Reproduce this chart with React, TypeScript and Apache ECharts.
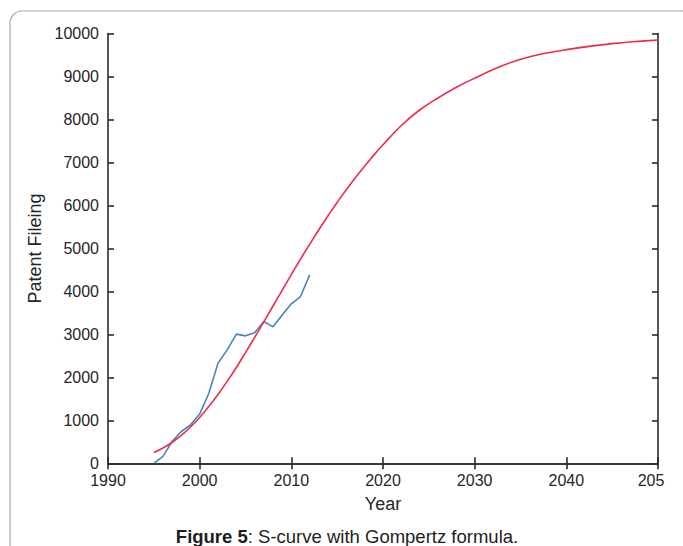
import React, { useEffect, useRef } from "react";
import * as echarts from "echarts";

// Observed patent filings (blue)
const obsYears = [1995, 1996, 1997, 1998, 1999, 2000, 2001, 2002, 2003, 2004, 2005, 2006, 2007, 2008, 2009, 2010, 2011, 2012];
const obsValues = [0, 160, 510, 740, 895, 1145, 1630, 2330, 2640, 3005, 2965, 3040, 3300, 3175, 3450, 3710, 3880, 4385];

// Gompertz S-curve (red)
const fitYears = [1995, 1996, 1997, 1998, 1999, 2000, 2001, 2002, 2003, 2004, 2005, 2006, 2007, 2008, 2009, 2010, 2011, 2012, 2013, 2014, 2015, 2017, 2019, 2020, 2022, 2024, 2026, 2028, 2030, 2033, 2036, 2040, 2045, 2050];
const fitValues = [250, 355, 490, 650, 845, 1065, 1320, 1600, 1905, 2230, 2575, 2930, 3290, 3660, 4025, 4390, 4750, 5095, 5435, 5760, 6070, 6650, 7170, 7410, 7860, 8220, 8500, 8750, 8960, 9250, 9460, 9625, 9765, 9850];

// Axis tick labels
const xTicks = [1990, 2000, 2010, 2020, 2030, 2040, 2050];
const xTickLabels = ["1990", "2000", "2010", "2020", "2030", "2040", "205"];
const yTicks = [0, 1000, 2000, 3000, 4000, 5000, 6000, 7000, 8000, 9000, 10000];
const yTickLabels = ["0", "1000", "2000", "3000", "4000", "5000", "6000", "7000", "8000", "9000", "10000"];

const FONT = "'Liberation Sans', Arial, Helvetica, sans-serif";
const AXIS_COLOR = "#2b2b2b";
const TEXT_COLOR = "#262626";

export default function App() {
  const ref = useRef<HTMLDivElement>(null);

  useEffect(() => {
    if (!ref.current) return;
    const chart = echarts.init(ref.current, undefined, { renderer: "svg" });

    const axisLine = { show: true, lineStyle: { color: AXIS_COLOR, width: 1.6 } };
    const axisTick = { show: true, inside: true, length: 6, lineStyle: { color: AXIS_COLOR, width: 1.6 } };

    chart.setOption({
      animation: false,
      backgroundColor: "#ffffff",
      grid: { left: 108, right: 25, top: 33.5, bottom: 82.7, containLabel: false },
      xAxis: [
        {
          type: "value",
          min: xTicks[0],
          max: xTicks[xTicks.length - 1],
          interval: 10,
          position: "bottom",
          axisLine,
          axisTick,
          splitLine: { show: false },
          axisLabel: {
            show: true,
            margin: 9,
            fontSize: 16,
            fontFamily: FONT,
            color: TEXT_COLOR,
            formatter: (v: number) => {
              const i = xTicks.indexOf(v);
              const s = i >= 0 ? xTickLabels[i] : String(v);
              return i === xTicks.length - 1 ? `{s|${s}}` : s;
            },
            rich: {
              s: { fontSize: 16, fontFamily: FONT, color: TEXT_COLOR, padding: [0, 14, 0, 0] },
            },
          },
          name: "Year",
          nameLocation: "middle",
          nameGap: 32,
          nameTextStyle: { fontSize: 18, fontFamily: FONT, color: TEXT_COLOR },
        },
        {
          type: "value",
          min: xTicks[0],
          max: xTicks[xTicks.length - 1],
          interval: 10,
          position: "top",
          axisLine,
          axisTick,
          axisLabel: { show: false },
          splitLine: { show: false },
        },
      ],
      yAxis: [
        {
          type: "value",
          min: yTicks[0],
          max: yTicks[yTicks.length - 1],
          interval: 1000,
          position: "left",
          axisLine,
          axisTick,
          splitLine: { show: false },
          axisLabel: {
            show: true,
            margin: 9,
            fontSize: 16,
            fontFamily: FONT,
            color: TEXT_COLOR,
            formatter: (v: number) => {
              const i = yTicks.indexOf(v);
              return i >= 0 ? yTickLabels[i] : String(v);
            },
          },
          name: "Patent Fileing",
          nameLocation: "middle",
          nameRotate: 90,
          nameGap: 47,
          nameTextStyle: { fontSize: 18, fontFamily: FONT, color: TEXT_COLOR },
        },
        {
          type: "value",
          min: yTicks[0],
          max: yTicks[yTicks.length - 1],
          interval: 1000,
          position: "right",
          axisLine,
          axisTick,
          axisLabel: { show: false },
          splitLine: { show: false },
        },
      ],
      series: [
        {
          type: "line",
          name: "Gompertz",
          xAxisIndex: 0,
          yAxisIndex: 0,
          data: fitYears.map((y, i) => [y, fitValues[i]]),
          smooth: 0.4,
          showSymbol: false,
          symbol: "none",
          lineStyle: { color: "#ee2b48", width: 1.6 },
          z: 3,
        },
        {
          type: "line",
          name: "Observed",
          xAxisIndex: 0,
          yAxisIndex: 0,
          data: obsYears.map((y, i) => [y, obsValues[i]]),
          showSymbol: false,
          symbol: "none",
          lineStyle: { color: "#4a82bb", width: 1.6 },
          z: 2,
        },
      ],
      graphic: [
        {
          type: "rect",
          shape: { x: 10, y: 11, width: 684, height: 600, r: 12 },
          style: { fill: "none", stroke: "#a8a8a8", lineWidth: 1.2 },
          silent: true,
          z: -10,
        },
        {
          type: "text",
          x: 347,
          y: 536,
          style: {
            text: "{b|Figure 5}: S-curve with Gompertz formula.",
            font: `18.5px ${FONT}`,
            fontSize: 18.5,
            fontFamily: FONT,
            fill: "#1e1e1e",
            align: "center",
            verticalAlign: "middle",
            rich: {
              b: { fontSize: 18.5, fontFamily: FONT, fontWeight: "bold", fill: "#1e1e1e" },
            },
          },
          silent: true,
        },
      ],
    });

    return () => chart.dispose();
  }, []);

  return (
    <div
      ref={ref}
      style={{ position: "absolute", left: 0, top: 0, width: 683, height: 546 }}
    />
  );
}
